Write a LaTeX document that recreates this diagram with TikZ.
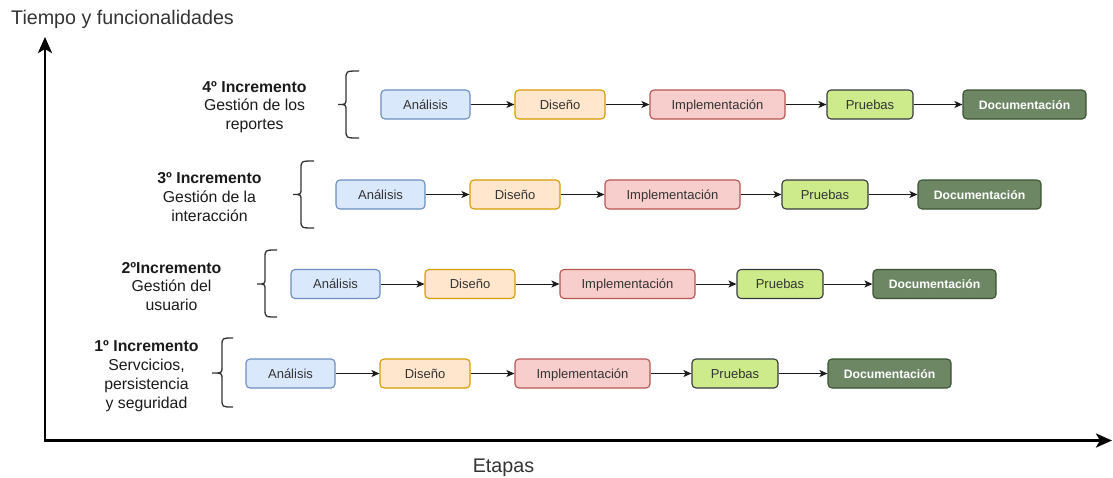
\documentclass[tikz,border=0pt]{standalone}
\usepackage{fontspec}
\setmainfont{Liberation Sans}
\usetikzlibrary{arrows.meta}

\definecolor{txtgray}{HTML}{333333}
\definecolor{lbltxt}{HTML}{1A1A1A}
\definecolor{anfill}{HTML}{DAE8FC}\definecolor{anline}{HTML}{6C8EBF}
\definecolor{difill}{HTML}{FFE6CC}\definecolor{diline}{HTML}{D79B00}
\definecolor{imfill}{HTML}{F8CECC}\definecolor{imline}{HTML}{B85450}
\definecolor{prfill}{HTML}{CDEB8B}\definecolor{prline}{HTML}{36393D}
\definecolor{dofill}{HTML}{6D8764}\definecolor{doline}{HTML}{3A5431}

% curly bracket opening to the right: tip x, stem x, end x, top y, bottom y, middle y
\newcommand\incbrace[6]{%
  \draw[bracestyle] (#3,#4) .. controls (#2,#4) .. (#2,#4+8)
    -- (#2,#6-6) .. controls (#2,#6) .. (#1,#6)
    .. controls (#2,#6) .. (#2,#6+6)
    -- (#2,#5-8) .. controls (#2,#5) .. (#3,#5);}

\begin{document}
\begin{tikzpicture}[x=1pt,y=-1pt,
  stage/.style={draw, rounded corners=4pt, line width=1.1pt, minimum height=29pt,
    inner sep=0pt, text height=11pt, text depth=1.7pt,
    font=\fontsize{13}{15}\selectfont, text=txtgray},
  analisis/.style={stage, fill=anfill, draw=anline, minimum width=89pt},
  diseno/.style={stage, fill=difill, draw=diline, minimum width=90pt},
  implem/.style={stage, fill=imfill, draw=imline, minimum width=135pt},
  pruebas/.style={stage, fill=prfill, draw=prline, minimum width=86pt},
  docum/.style={stage, fill=dofill, draw=doline, minimum width=123pt, text=white,
    font=\fontsize{12.2}{14}\selectfont\bfseries},
  flow/.style={draw=lbltxt, line width=1pt, -{Stealth[length=8pt,width=7pt,inset=2pt]}},
  incr/.style={align=center, inner sep=0pt, text=lbltxt, font=\fontsize{15.8}{18.8}\selectfont},
  bracestyle/.style={draw=txtgray, line width=1.3pt},
  axis/.style={draw=black, line width=2.8pt,
    {Stealth[length=16pt,width=14pt,inset=4pt]}-{Stealth[length=16pt,width=14pt,inset=4pt]}},
  axistext/.style={inner sep=0pt, text=txtgray, font=\fontsize{19.7}{23}\selectfont}]

\useasboundingbox (0,0) rectangle (1113,477);

% axes
\coordinate (ytop) at (45,37);
\coordinate (origin) at (45,440.5);
\coordinate (xend) at (1112,440.5);
\draw[axis] (ytop) -- (origin) -- (xend);
\node[axistext, anchor=base west] (ylabel) at (11,24.5) {Tiempo y funcionalidades};
\node[axistext, anchor=base] (xlabel) at (503.5,472) {Etapas};

% the four increments, each shifted left by 45 from the one above
\foreach \r/\dx/\y in {4/0/104.5, 3/45/194.5, 2/90/284, 1/135/373.5}{
  \node[analisis] (a\r) at (425.5-\dx,\y) {Análisis};
  \node[diseno]   (d\r) at (560-\dx,\y)   {Diseño};
  \node[implem]   (i\r) at (717.5-\dx,\y) {Implementación};
  \node[pruebas]  (p\r) at (870-\dx,\y)   {Pruebas};
  \node[docum]    (o\r) at (1024.5-\dx,\y) {Documentación};
  \draw[flow] (a\r) -- (d\r);
  \draw[flow] (d\r) -- (i\r);
  \draw[flow] (i\r) -- (p\r);
  \draw[flow] (p\r) -- (o\r);
}

% increment labels
\node[incr] (l4) at (254.5,107) {\textbf{4º Incremento}\\Gestión de los\\reportes};
\node[incr] (l3) at (209.5,197) {\textbf{3º Incremento}\\Gestión de la\\interacción};
\node[incr] (l2) at (171.5,286.5) {\textbf{2ºIncremento}\\Gestión del\\usuario};
\node[incr] (l1) at (146.5,376) {\textbf{1º Incremento}\\Servcicios,\\persistencia\\y seguridad};

% braces
\incbrace{338}{346}{359}{71}{138}{104.5}
\incbrace{293}{301}{314}{161}{228}{194.5}
\incbrace{257}{265}{277}{250}{317}{284}
\incbrace{212}{222}{233}{338}{407}{373}

\end{tikzpicture}
\end{document}
